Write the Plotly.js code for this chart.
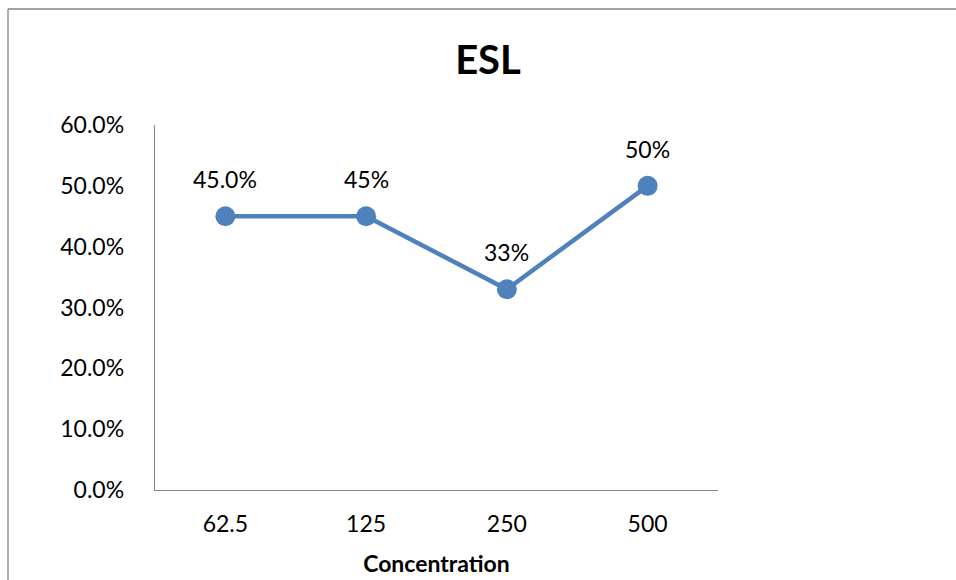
<!DOCTYPE html>
<html>
<head>
<meta charset="utf-8">
<script src="https://cdn.plot.ly/plotly-3.0.1.min.js"></script>
<style>
  html, body { margin: 0; padding: 0; background: #fff; }
  #chart { width: 956px; height: 580px; }
</style>
</head>
<body>
<div id="chart"></div>
<script>
// ESL response by concentration
const concentrations = ['62.5', '125', '250', '500'];
const eslValues = [0.45, 0.45, 0.33, 0.50];
const labelDecimals = [1, 0, 0, 0];   // decimals shown in each point's data label

const FONT = 'Lato, "Open Sans", sans-serif';
const lineColor = '#4F81BD';
const axisGray = '#868686';

const trace = {
  type: 'scatter',
  mode: 'lines+markers',
  x: concentrations,
  y: eslValues,
  line: { color: lineColor, width: 4.5 },
  marker: { color: lineColor, size: 20 },
  hoverinfo: 'x+y'
};

// Data labels above each point (category axis: position by category index)
const labels = eslValues.map((v, i) => ({
  x: i,
  y: v,
  xref: 'x',
  yref: 'y',
  text: (v * 100).toFixed(labelDecimals[i]) + '%',
  showarrow: false,
  yshift: 37,
  font: { family: FONT, size: 23, color: '#000' }
}));

// Chart frame: the outer border runs along the top and left edges
const frame = [
  { type: 'line', xref: 'paper', yref: 'paper', x0: -0.2611, x1: 1.5, y0: 1.3178, y1: 1.3178,
    line: { color: axisGray, width: 1.3 } },
  { type: 'line', xref: 'paper', yref: 'paper', x0: -0.2611, x1: -0.2611, y0: -0.4, y1: 1.3178,
    line: { color: axisGray, width: 1.3 } }
];

const layout = {
  width: 956,
  height: 580,
  margin: { l: 155, r: 238, t: 125, b: 90 },
  paper_bgcolor: '#fff',
  plot_bgcolor: '#fff',
  showlegend: false,
  font: { family: FONT, size: 23, color: '#000' },
  title: {
    text: '<b>ESL</b>',
    font: { family: FONT, size: 40, color: '#000' },
    xref: 'container', x: 488 / 956, xanchor: 'center',
    yref: 'container', y: 1 - 60 / 580, yanchor: 'middle'
  },
  xaxis: {
    type: 'category',
    range: [-0.5, 3.5],
    showline: true, linecolor: axisGray, linewidth: 1.3,
    showgrid: false, zeroline: false,
    ticks: '',
    ticklabelstandoff: 13,
    tickfont: { family: FONT, size: 23, color: '#000' },
    title: { text: '<b>Concentration</b>', font: { family: FONT, size: 23, color: '#000' }, standoff: 20 },
    fixedrange: true
  },
  yaxis: {
    range: [0, 0.6],
    dtick: 0.1,
    tickformat: '.1%',
    showline: true, linecolor: axisGray, linewidth: 1.3,
    showgrid: false, zeroline: false,
    ticks: '',
    ticklabelstandoff: 25,
    tickfont: { family: FONT, size: 23, color: '#000' },
    fixedrange: true
  },
  annotations: labels,
  shapes: frame
};

Plotly.newPlot('chart', [trace], layout, { displayModeBar: false, staticPlot: true });
</script>
</body>
</html>
